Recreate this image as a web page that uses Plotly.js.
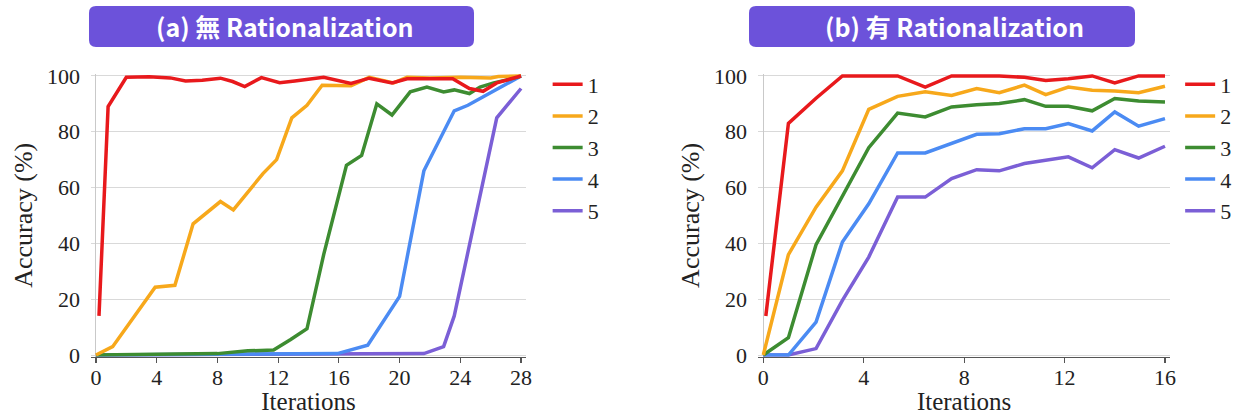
<!DOCTYPE html>
<html><head><meta charset="utf-8">
<script src="https://cdn.plot.ly/plotly-3.0.1.min.js"></script>
<style>html,body{margin:0;padding:0;background:#fff;}#chart{width:1239px;height:415px;}</style>
</head><body><div id="chart"></div>
<script>
// ---- Panel (a): without rationalization ----
const aX1 = [0.2, 0.8, 2.0, 3.5, 4.9, 5.9, 7.0, 8.2, 9.0, 9.8, 10.9, 12.1, 13.1, 15.0, 16.8, 18.0, 19.5, 20.5, 22.0, 23.5, 24.6, 25.5, 26.4, 28];
const aY1 = [14, 89, 99.5, 99.7, 99.3, 98.2, 98.5, 99.2, 98, 96.2, 99.4, 97.6, 98.2, 99.5, 97.3, 99.2, 97.5, 99, 99, 99, 95.5, 94.5, 97.5, 100];
const aX2 = [0, 1.1, 3.9, 5.2, 6.4, 8.2, 9.05, 11.0, 11.9, 12.9, 13.9, 14.9, 16.8, 18.0, 19.6, 20.5, 22, 24, 26, 26.5, 28];
const aY2 = [0, 3, 24.3, 25, 47, 55, 52, 65, 70, 85, 89.5, 96.7, 96.5, 99.5, 97.5, 99.5, 99.3, 99.5, 99.3, 99.8, 100];
const aX3 = [0, 8, 10, 11.7, 12.8, 13.9, 15.0, 16.5, 17.5, 18.5, 19.5, 20.7, 21.8, 22.9, 23.6, 24.6, 25.3, 26.2, 27, 28];
const aY3 = [0, 0.5, 1.5, 1.8, 5.5, 9.4, 36, 68, 71.5, 90, 86, 94.3, 96, 94.3, 95, 93.7, 96, 97.5, 98.5, 100];
const aX4 = [0, 15.9, 17.9, 20.0, 21.6, 23.6, 24.5, 28];
const aY4 = [0, 0.5, 3.5, 21, 66, 87.5, 89.5, 100];
const aX5 = [0, 21.6, 22.9, 23.6, 26.4, 28];
const aY5 = [0, 0.5, 3, 14, 85, 95.5];

// ---- Panel (b): with rationalization ----
const bX = [0, 1.0, 2.1, 3.15, 4.2, 5.35, 6.45, 7.5, 8.5, 9.4, 10.4, 11.25, 12.15, 13.1, 14.0, 14.95, 16];
const bX1 = [0.1, 1.0, 2.1, 3.15, 4.2, 5.35, 6.45, 7.5, 8.5, 9.4, 10.4, 11.25, 12.15, 13.1, 14.0, 14.95, 16];
const bY1 = [14, 83, 92, 100, 100, 100, 96, 100, 100, 100, 99.5, 98.4, 99, 100, 97.5, 100, 100];
const bY2 = [0, 36, 53, 66, 88, 92.7, 94.3, 93, 95.5, 94, 96.7, 93.3, 96, 94.9, 94.6, 94, 96.3];
const bY3 = [0, 6.2, 39.5, 57, 74.3, 86.7, 85.3, 88.9, 89.7, 90.1, 91.5, 89.1, 89.1, 87.5, 91.9, 91, 90.7];
const bY4 = [0, 0, 11.8, 40.5, 54.2, 72.4, 72.4, 75.7, 79.1, 79.3, 81.1, 81.1, 82.9, 80.3, 87.1, 82, 84.7];
const bY5 = [0, 0, 2.3, 19.6, 35.1, 56.6, 56.6, 63.2, 66.4, 66, 68.6, 69.8, 71, 67.1, 73.6, 70.6, 74.8];

const seriesNames = ['1', '2', '3', '4', '5'];
const colors = ['#e8191c', '#f7a81b', '#3d8c31', '#4b8bf3', '#7b5fd6'];

const aXs = [aX1, aX2, aX3, aX4, aX5];
const aYs = [aY1, aY2, aY3, aY4, aY5];
const bXs = [bX1, bX, bX, bX, bX];
const bYs = [bY1, bY2, bY3, bY4, bY5];

const traces = [];
for (let i = 4; i >= 0; i--) {
  traces.push({x: aXs[i], y: aYs[i], type: 'scatter', mode: 'lines', name: seriesNames[i],
    line: {color: colors[i], width: 3.5}, xaxis: 'x', yaxis: 'y', legend: 'legend',
    legendgroup: 'a' + i, legendrank: i + 1});
}
for (let i = 4; i >= 0; i--) {
  traces.push({x: bXs[i], y: bYs[i], type: 'scatter', mode: 'lines', name: seriesNames[i],
    line: {color: colors[i], width: 3.5}, xaxis: 'x2', yaxis: 'y2', legend: 'legend2',
    legendgroup: 'b' + i, legendrank: i + 1});
}

const serif = '"Liberation Serif", serif';
const yDom = [0.1405, 0.8217];
function xAxis(dom, range, dtick) {
  return {domain: dom, range: range, dtick: dtick, tick0: 0, showgrid: false,
    zeroline: true, zerolinecolor: '#c9c9c9', zerolinewidth: 1,
    showline: true, linecolor: '#555', linewidth: 1.2,
    ticks: 'outside', ticklen: 5, tickcolor: '#555', tickwidth: 1.2, ticklabelstandoff: -4,
    tickfont: {family: serif, size: 22, color: '#222'},
    title: {text: 'Iterations', font: {family: serif, size: 25, color: '#222'}, standoff: 3}};
}
function yAxis(anchor) {
  return {domain: yDom, range: [-0.6, 100.7], dtick: 20, tick0: 0, anchor: anchor,
    showgrid: true, gridcolor: '#d9d9d9', gridwidth: 1, zeroline: false, showline: false,
    ticks: 'outside', ticklen: 6, tickcolor: 'rgba(0,0,0,0)',
    tickfont: {family: serif, size: 22, color: '#222'},
    title: {text: 'Accuracy (%)', font: {family: serif, size: 26, color: '#222'}, standoff: 6}};
}

function roundRect(x0, y0, x1, y1, r) {
  const W = 1239, H = 415;
  const px = v => (v / W).toFixed(5), py = v => (1 - v / H).toFixed(5);
  return `M${px(x0 + r)},${py(y0)} L${px(x1 - r)},${py(y0)} Q${px(x1)},${py(y0)} ${px(x1)},${py(y0 + r)} ` +
    `L${px(x1)},${py(y1 - r)} Q${px(x1)},${py(y1)} ${px(x1 - r)},${py(y1)} L${px(x0 + r)},${py(y1)} ` +
    `Q${px(x0)},${py(y1)} ${px(x0)},${py(y1 - r)} L${px(x0)},${py(y0 + r)} Q${px(x0)},${py(y0)} ${px(x0 + r)},${py(y0)} Z`;
}

const titleFont = {family: '"Noto Sans CJK TC", "Noto Sans", sans-serif', size: 25, color: '#ffffff', weight: 'bold'};

const legendCommon = {xanchor: 'left', yanchor: 'top', tracegroupgap: 16.5,
  font: {family: serif, size: 22, color: '#222'}, bgcolor: 'rgba(0,0,0,0)', traceorder: 'normal'};

const layout = {
  width: 1239, height: 415,
  margin: {l: 0, r: 0, t: 0, b: 0},
  paper_bgcolor: '#ffffff', plot_bgcolor: '#ffffff',
  showlegend: true,
  xaxis: xAxis([0.07377, 0.42421], [-0.3, 28.3], 4),
  yaxis: yAxis('x'),
  xaxis2: xAxis([0.61202, 0.94431], [-0.2, 16.2], 4),
  yaxis2: yAxis('x2'),
  legend: Object.assign({x: 0.442, y: 0.847}, legendCommon),
  legend2: Object.assign({x: 0.9525, y: 0.847}, legendCommon),
  shapes: [
    {type: 'path', xref: 'paper', yref: 'paper', path: roundRect(89, 6, 474, 47, 7), fillcolor: '#6c52da', line: {width: 0}, layer: 'below'},
    {type: 'path', xref: 'paper', yref: 'paper', path: roundRect(749, 6, 1135, 47, 7), fillcolor: '#6c52da', line: {width: 0}, layer: 'below'}
  ],
  annotations: [
    {text: '(a) 無 Rationalization', xref: 'paper', yref: 'paper', x: 285 / 1239, y: 1 - 26.5 / 415,
      xanchor: 'center', yanchor: 'middle', showarrow: false, font: titleFont},
    {text: '(b) 有 Rationalization', xref: 'paper', yref: 'paper', x: 954 / 1239, y: 1 - 26.5 / 415,
      xanchor: 'center', yanchor: 'middle', showarrow: false, font: titleFont}
  ]
};

Plotly.newPlot('chart', traces, layout, {displayModeBar: false, staticPlot: true});
</script>
</body></html>
